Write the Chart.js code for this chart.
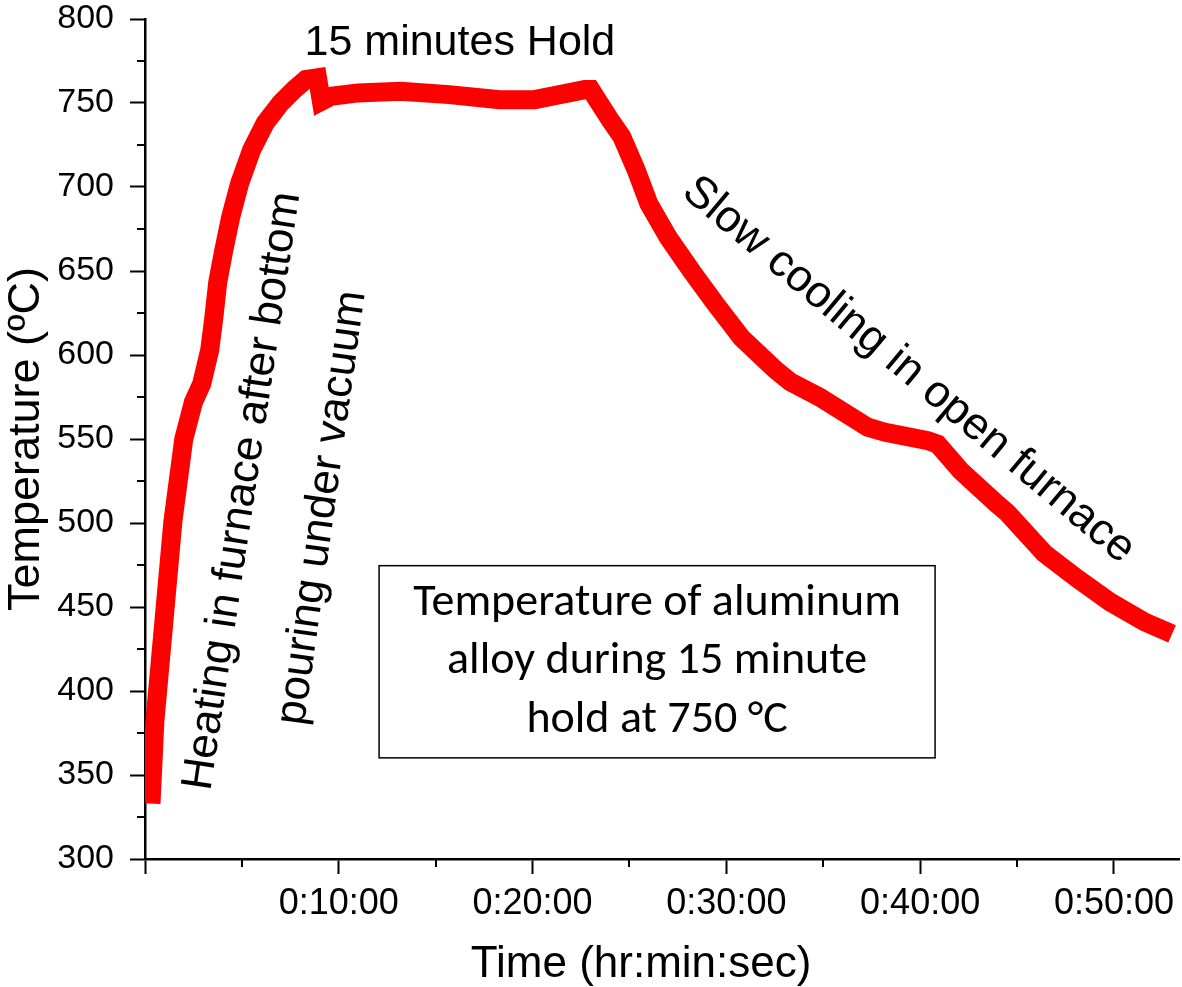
<!DOCTYPE html>
<html>
<head>
<meta charset="utf-8">
<script src="https://cdn.jsdelivr.net/npm/chart.js@4"></script>
<style>
  html, body { margin: 0; padding: 0; background: #fff; }
  #wrap { width: 1182px; height: 987px; }
</style>
</head>
<body>
<div id="wrap"><canvas id="chart" width="1182" height="987"></canvas></div>
<script>
// time (minutes) and temperature (degC)
const timeMin = [0.31, 0.51, 0.98, 1.44, 2.0, 2.5, 2.93, 3.34, 3.55, 3.75, 4.06, 4.42, 4.88, 5.5, 6.2, 7.0, 7.7, 8.3, 8.9, 9.1, 9.6,
  11.0, 13.2, 15.7, 18.3, 20.1, 21.4, 22.7, 23.0,
  24.0, 24.6, 25.35, 26.0, 27.0, 28.2, 29.4, 30.8, 32.55, 33.3, 34.8, 37.3, 38.2, 40.4, 40.9, 42.1, 43.9, 44.5, 46.4, 48.1, 49.8, 51.6, 53.0];
const tempC = [333, 382, 442, 501, 550, 572, 583, 603, 622, 643, 662, 682, 702, 722, 738, 750, 758, 764, 765, 751, 754,
  756, 757, 755, 752, 752, 755, 758, 758,
  740, 730, 710, 690, 670, 650, 631, 610, 591, 584, 575, 557, 554, 549, 547, 531, 512, 506, 482, 467, 453, 441, 434];

const minorX = [5, 15, 25, 35, 45];
const minorY = [325, 375, 425, 475, 525, 575, 625, 675, 725, 775];

const boxLines = ["Temperature of aluminum", "alloy during 15 minute", "hold at 750 °C"];

function fmtTime(m) {
  var h = Math.floor(m / 60);
  var mm = Math.round(m % 60);
  return h + ":" + String(mm).padStart(2, "0") + ":00";
}

const arial = "'Liberation Sans', Arial, sans-serif";

const minorTicks = {
  id: "minorTicks",
  afterDraw(chart) {
    const ctx = chart.ctx;
    const x = chart.scales.x, y = chart.scales.y;
    ctx.save();
    ctx.strokeStyle = "#000";
    ctx.lineWidth = 2;
    ctx.beginPath();
    minorY.forEach(function (v) {
      var py = Math.round(y.getPixelForValue(v));
      ctx.moveTo(x.left - 8, py);
      ctx.lineTo(x.left, py);
    });
    minorX.forEach(function (v) {
      var px = Math.round(x.getPixelForValue(v));
      ctx.moveTo(px, y.bottom);
      ctx.lineTo(px, y.bottom + 8);
    });
    ctx.stroke();
    ctx.restore();
  }
};

function rotText(ctx, x, y, v, t, deg, text) {
  ctx.save();
  ctx.translate(x.getPixelForValue(v), y.getPixelForValue(t));
  ctx.rotate(deg * Math.PI / 180);
  ctx.fillText(text, 0, 0);
  ctx.restore();
}

const notes = {
  id: "notes",
  afterDraw(chart) {
    const ctx = chart.ctx;
    const x = chart.scales.x, y = chart.scales.y;
    ctx.save();
    ctx.fillStyle = "#000";
    ctx.textAlign = "center";
    ctx.font = "43px " + arial;
    ctx.textBaseline = "alphabetic";
    ctx.fillText("15 minutes Hold", x.getPixelForValue(16.25), y.getPixelForValue(778.5));

    // x axis title, set a little left of the plot centre as in the original
    ctx.font = "44px " + arial;
    ctx.textBaseline = "middle";
    ctx.fillText("Time (hr:min:sec)", x.getPixelForValue(25.6), x.bottom - 22);

    ctx.font = "44px " + arial;
    rotText(ctx, x, y, 5.05, 519, -81.5, "Heating in furnace after bottom");
    rotText(ctx, x, y, 9.15, 509, -82, "pouring under vacuum");
    ctx.font = "45px " + arial;
    rotText(ctx, x, y, 39.4, 591, 40, "Slow cooling in open furnace");

    // text box
    var bx1 = x.getPixelForValue(12.08), bx2 = x.getPixelForValue(40.77);
    var by1 = y.getPixelForValue(474.6), by2 = y.getPixelForValue(360.2);
    ctx.fillStyle = "#fff";
    ctx.fillRect(bx1, by1, bx2 - bx1, by2 - by1);
    ctx.strokeStyle = "#000";
    ctx.lineWidth = 1.5;
    ctx.strokeRect(bx1, by1, bx2 - bx1, by2 - by1);
    ctx.fillStyle = "#000";
    ctx.font = "46px Carlito, Lato, sans-serif";
    ctx.textBaseline = "alphabetic";
    var cx = (bx1 + bx2) / 2;
    var base = [445.5, 411, 375.5];
    boxLines.forEach(function (s, i) {
      ctx.fillText(s, cx, y.getPixelForValue(base[i]));
    });
    ctx.restore();
  }
};

const points = timeMin.map(function (t, i) { return { x: t, y: tempC[i] }; });

new Chart(document.getElementById("chart"), {
  type: "line",
  data: {
    datasets: [{
      data: points,
      borderColor: "rgb(255, 0, 0)",
      borderWidth: 19,
      pointRadius: 0,
      tension: 0,
      clip: 0
    }]
  },
  options: {
    responsive: false,
    animation: false,
    devicePixelRatio: 1,
    layout: { padding: { top: 19, right: 0, left: 0, bottom: 0 } },
    plugins: { legend: { display: false }, tooltip: { enabled: false } },
    scales: {
      x: {
        type: "linear",
        min: 0,
        max: 53.4,
        ticks: {
          stepSize: 10,
          includeBounds: false,
          autoSkip: false,
          maxRotation: 0,
          color: "#000",
          padding: 8,
          font: { family: arial, size: 36 },
          callback: function (v) { return v === 0 ? "" : fmtTime(v); }
        },
        grid: { drawOnChartArea: false, tickLength: 15, tickWidth: 2, tickColor: "#000" },
        border: { color: "#000", width: 2.5 },
        afterFit: function (s) { s.height = 128; }
      },
      y: {
        min: 300,
        max: 800,
        ticks: {
          stepSize: 50,
          color: "#000",
          padding: 16,
          font: { family: arial, size: 34, lineHeight: 1 }
        },
        grid: { drawOnChartArea: false, tickLength: 15, tickWidth: 2, tickColor: "#000" },
        border: { color: "#000", width: 2.5 },
        title: {
          display: true,
          text: "Temperature (ºC)",
          color: "#000",
          padding: { top: 4, bottom: 0 },
          font: { family: arial, size: 45, lineHeight: 1 }
        },
        afterFit: function (s) {
          s.width = 145;
          s.paddingTop = 0;
        }
      }
    }
  },
  plugins: [minorTicks, notes]
});
</script>
</body>
</html>
